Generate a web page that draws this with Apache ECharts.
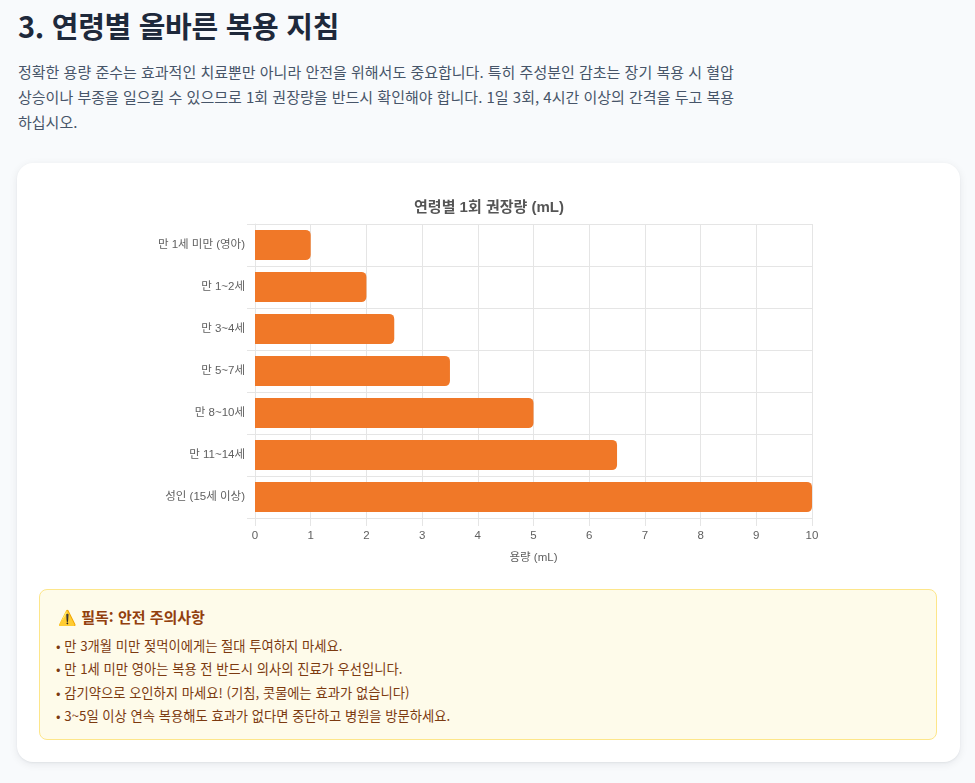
<!DOCTYPE html>
<html lang="ko">
<head>
<meta charset="utf-8">
<script src="https://cdn.jsdelivr.net/npm/echarts@6/dist/echarts.min.js"></script>
<style>
  html, body { margin: 0; padding: 0; }
  body { width: 975px; height: 783px; background: #f8fafc; font-family: "Noto Sans CJK KR", "Noto Sans", sans-serif; position: relative; overflow: hidden; }
  h2 { position: absolute; left: 18px; top: 4px; margin: 0; font-size: 29px; font-weight: 700; color: #1e293b; letter-spacing: -0.3px; }
  p.lead { position: absolute; left: 18px; top: 59px; width: 740px; margin: 0; font-size: 15px; line-height: 25px; color: #475569; word-break: keep-all; }
  .card { position: absolute; left: 17px; top: 163px; width: 943px; height: 599px; background: #fff; border-radius: 16px; box-shadow: 0 2px 8px rgba(15,23,42,0.08), 0 1px 2px rgba(15,23,42,0.05); }
  #chart { position: absolute; left: 39px; top: 180px; width: 900px; height: 390px; }
  .warn { position: absolute; left: 39px; top: 589px; width: 896px; height: 149px; background: #fefbea; border: 1px solid #fde68a; border-radius: 8px; box-sizing: content-box; }
  .warn h4 { margin: 0; position: absolute; left: 18px; top: 16px; font-size: 15px; font-weight: 700; color: #92400e; }
  .warn ul { list-style: none; margin: 0; padding: 0; position: absolute; left: 16px; top: 44px; }
  .warn li { font-size: 13.3px; line-height: 23.3px; color: #7c3a10; }
  .warn li::before { content: "• "; }
</style>
</head>
<body>
<h2>3. 연령별 올바른 복용 지침</h2>
<p class="lead">정확한 용량 준수는 효과적인 치료뿐만 아니라 안전을 위해서도 중요합니다. 특히 주성분인 감초는 장기 복용 시 혈압 상승이나 부종을 일으킬 수 있으므로 1회 권장량을 반드시 확인해야 합니다. 1일 3회, 4시간 이상의 간격을 두고 복용<wbr>하십시오.</p>
<div class="card"></div>
<div id="chart"></div>
<div class="warn">
  <h4>⚠️ 필독: 안전 주의사항</h4>
  <ul>
    <li>만 3개월 미만 젖먹이에게는 절대 투여하지 마세요.</li>
    <li>만 1세 미만 영아는 복용 전 반드시 의사의 진료가 우선입니다.</li>
    <li>감기약으로 오인하지 마세요! (기침, 콧물에는 효과가 없습니다)</li>
    <li>3~5일 이상 연속 복용해도 효과가 없다면 중단하고 병원을 방문하세요.</li>
  </ul>
</div>
<script>
const chartTitle = '연령별 1회 권장량 (mL)';
const ageGroups = ['만 1세 미만 (영아)', '만 1~2세', '만 3~4세', '만 5~7세', '만 8~10세', '만 11~14세', '성인 (15세 이상)'];
const doseML = [1, 2, 2.5, 3.5, 5, 6.5, 10];
const xAxisName = '용량 (mL)';

const fontFam = '"Liberation Sans", "Noto Sans CJK KR", sans-serif';
const gridColor = '#e5e5e5';
const chart = echarts.init(document.getElementById('chart'));
chart.setOption({
  animation: false,
  title: {
    text: chartTitle, left: 'center', top: 15,
    textStyle: { fontFamily: fontFam, fontSize: 15, fontWeight: 'bold', color: '#555' }
  },
  grid: { left: 216, right: 127, top: 44, bottom: 52 },
  xAxis: {
    type: 'value', min: 0, max: 10, interval: 1,
    name: xAxisName, nameLocation: 'middle', nameGap: 34,
    nameTextStyle: { fontFamily: fontFam, fontSize: 11.5, color: '#606060' },
    axisLine: { show: true, lineStyle: { color: gridColor } },
    axisTick: { show: true, length: 8, lineStyle: { color: gridColor } },
    axisLabel: { fontFamily: fontFam, fontSize: 11.5, color: '#606060', margin: 12 },
    splitLine: { show: true, lineStyle: { color: gridColor } }
  },
  yAxis: {
    type: 'category', data: ageGroups, inverse: true,
    axisLine: { show: true, lineStyle: { color: gridColor } },
    axisTick: { show: true, length: 8, lineStyle: { color: gridColor } },
    axisLabel: { fontFamily: fontFam, fontSize: 11.5, color: '#606060', margin: 10 },
    splitLine: { show: true, lineStyle: { color: gridColor } }
  },
  series: [{
    type: 'bar', data: doseML, barWidth: '72%',
    itemStyle: { color: '#f07828', borderRadius: [0, 5, 5, 0] }
  }]
});
</script>
</body>
</html>
